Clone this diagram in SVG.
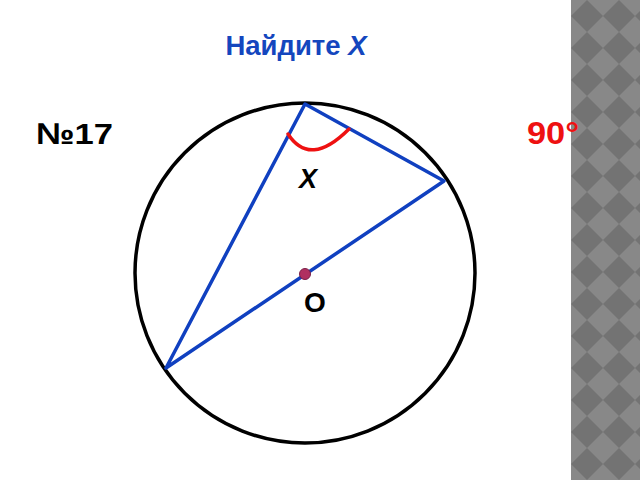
<svg xmlns="http://www.w3.org/2000/svg" width="640" height="480" viewBox="0 0 640 480">
<defs>
<pattern id="chk" x="571" y="0" width="32" height="32" patternUnits="userSpaceOnUse">
<rect width="32" height="32" fill="#888888"/>
<polygon points="16,0 32,16 16,32 0,16" fill="#737373"/>
</pattern>
<style>
.blue{stroke:#1040C0;stroke-width:3.5;fill:none;stroke-linecap:round;stroke-linejoin:round}
.t{font-family:"Liberation Sans",Arial,sans-serif;font-weight:bold}
</style>
</defs>
<rect width="640" height="480" fill="#ffffff"/>
<rect id="strip" x="571" y="0" width="69" height="480" fill="url(#chk)"/>
<g id="title"><text class="t" x="296" y="55" font-size="27.5" fill="#1446BE" text-anchor="middle">Найдите <tspan font-style="italic">X</tspan></text></g>
<g id="num"><text class="t" x="36" y="144" font-size="30" fill="#000" textLength="77" lengthAdjust="spacingAndGlyphs">№17</text></g>
<g id="answer"><text class="t" x="527" y="144" font-size="31" fill="#EE1111" textLength="52" lengthAdjust="spacingAndGlyphs">90°</text></g>
<g id="circle"><circle cx="305" cy="273" r="170" fill="none" stroke="#000" stroke-width="3.5"/></g>
<g id="connectors">
<polyline class="blue" points="166,368 305,104 444,181 166,368"/>
</g>
<g id="angle"><path d="M288 134 Q310 168 349 129" fill="none" stroke="#EE1111" stroke-width="3.5" stroke-linecap="round"/></g>
<g id="labelX"><text class="t" x="308" y="188" font-size="27" font-style="italic" fill="#000" text-anchor="middle">X</text></g>
<g id="center"><circle cx="305" cy="274" r="5.5" fill="#B03060" stroke="#7A2048" stroke-width="1"/></g>
<g id="labelO"><text class="t" x="315" y="312" font-size="28" fill="#000" text-anchor="middle">O</text></g>
</svg>
